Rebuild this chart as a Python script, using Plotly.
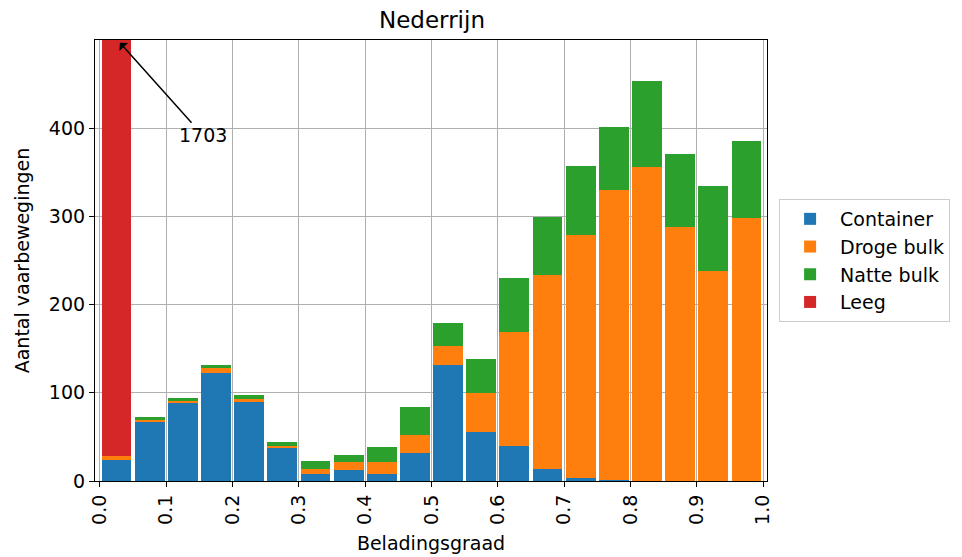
import plotly.graph_objects as go

bin_left = [i * 0.05 for i in range(20)]
container = [24, 68, 89, 123, 90, 38, 8, 13, 8, 32, 131, 55, 40, 14, 3, 1, 0, 0, 0, 0]
droge_bulk = [4, 1, 2, 6, 3, 2, 6, 8, 13, 20, 22, 45, 129, 219, 276, 329, 356, 288, 238, 298]
natte_bulk = [0, 4, 3, 2, 4, 4, 9, 9, 18, 32, 26, 38, 61, 66, 78, 71, 98, 83, 97, 88]
leeg = [1675, 0, 0, 0, 0, 0, 0, 0, 0, 0, 0, 0, 0, 0, 0, 0, 0, 0, 0, 0]
series_names = ["Container", "Droge bulk", "Natte bulk", "Leeg"]
colors = ["#1f77b4", "#ff7f0e", "#2ca02c", "#d62728"]
x_ticks = [0.0, 0.1, 0.2, 0.3, 0.4, 0.5, 0.6, 0.7, 0.8, 0.9, 1.0]
y_ticks = [0, 100, 200, 300, 400]
annot_value = 1703

bin_width = 0.05
centers = [b + bin_width / 2 for b in bin_left]

fig = go.Figure()
for name, vals, col in zip(series_names, [container, droge_bulk, natte_bulk, leeg], colors):
    fig.add_trace(go.Bar(
        x=centers, y=vals, name=name, width=bin_width * 0.9,
        marker=dict(color=col, line=dict(width=0)),
    ))

font = "DejaVu Sans, Arial, sans-serif"
fig.update_layout(
    barmode="stack",
    width=962, height=557,
    margin=dict(l=95, r=191, t=40, b=76),
    plot_bgcolor="white", paper_bgcolor="white",
    font=dict(family=font, size=19, color="black"),
    title=dict(text="Nederrijn", x=432 / 962, xanchor="center",
               y=1 - 20 / 557, yanchor="middle", font=dict(size=23)),
    legend=dict(x=1.018, y=0.5, xanchor="left", yanchor="middle",
                traceorder="normal",
                bordercolor="#cccccc", borderwidth=1, font=dict(size=19),
                tracegroupgap=0, itemwidth=50),
    xaxis=dict(range=[-0.0075, 1.006], tickvals=x_ticks,
               ticktext=[f"{v:.1f}" for v in x_ticks], tickangle=-90,
               showgrid=True, gridcolor="#b0b0b0", gridwidth=1.2,
               showline=True, linecolor="black", linewidth=1.2, mirror=True,
               ticks="outside", ticklen=5, tickcolor="black", zeroline=False,
               automargin=False,
               title=dict(text="Beladingsgraad", standoff=12, font=dict(size=19))),
    yaxis=dict(range=[0, 500], tickvals=y_ticks,
               showgrid=True, gridcolor="#b0b0b0", gridwidth=1.2,
               showline=True, linecolor="black", linewidth=1.2, mirror=True,
               ticks="outside", ticklen=5, tickcolor="black", zeroline=False,
               automargin=False,
               title=dict(text="Aantal vaarbewegingen", standoff=14, font=dict(size=19))),
)

fig.add_annotation(
    x=0.03, y=497, xref="x", yref="y",
    ax=0.155, ay=392, axref="x", ayref="y",
    text=str(annot_value), showarrow=True,
    arrowhead=1, arrowsize=1.3, arrowwidth=1.5, arrowcolor="black",
    font=dict(size=19, color="black"),
)

fig.write_html("out.html")
